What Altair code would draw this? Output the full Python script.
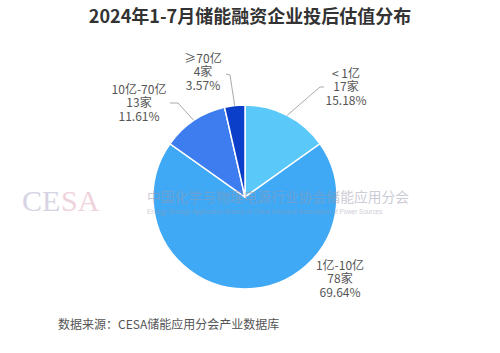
import math
import altair as alt
import pandas as pd

# ---- data ----
title_text = "2024年1-7月储能融资企业投后估值分布"
source_text = "数据来源：CESA储能应用分会产业数据库"
categories = ["< 1亿", "1亿-10亿", "10亿-70亿", "≥70亿"]
counts = [17, 78, 13, 4]
percents = ["15.18%", "69.64%", "11.61%", "3.57%"]
colors = ["#5BC8FA", "#3FA9F5", "#3D7DF0", "#0B3EC9"]

# ---- layout ----
CX, CY, R = 245, 197, 92
FONT = "Noto Sans CJK SC"
LH = 13.5
label_anchor = [(346, 87), (340, 279), (139, 103), (203, 72)]
label_elbow = [(320, 87), None, (178, 103), (230, 75)]
label_end = [(324, 87), None, (170, 103), (226, 74)]

df = pd.DataFrame({"cat": categories, "count": counts, "pct": percents,
                   "order": list(range(len(categories)))})
df["count_txt"] = df["count"].astype(str) + "家"
df["lx"] = [p[0] for p in label_anchor]
df["ly"] = [p[1] for p in label_anchor]

# leader lines: start at arc edge at the slice mid-angle
total = sum(counts)
rows = []
cum = 0
for i, c in enumerate(counts):
    mid = (cum + c / 2) / total * 2 * math.pi
    cum += c
    if label_elbow[i] is None:
        continue
    sx, sy = CX + R * math.sin(mid), CY - R * math.cos(mid)
    pts = [(sx, sy), label_elbow[i], label_end[i]]
    for j, (px, py) in enumerate(pts):
        rows.append({"key": categories[i], "seq": j, "x": px, "y": py})
lines_df = pd.DataFrame(rows)

pie = alt.Chart(df).mark_arc(outerRadius=R, stroke="white", strokeWidth=1.5).encode(
    theta=alt.Theta("count:Q", stack=True),
    color=alt.Color("cat:N", scale=alt.Scale(domain=categories, range=colors), legend=None),
    order=alt.Order("order:Q"),
    x=alt.value(CX),
    y=alt.value(CY),
)

leaders = alt.Chart(lines_df).mark_line(color="#AAAAAA", strokeWidth=1).encode(
    x=alt.X("x:Q", scale=None),
    y=alt.Y("y:Q", scale=None),
    detail="key:N",
    order="seq:Q",
)


def label_line(field, dy):
    return alt.Chart(df).mark_text(
        font=FONT, fontSize=12, color="#555555", align="center", baseline="middle", dy=dy,
    ).encode(
        x=alt.X("lx:Q", scale=None),
        y=alt.Y("ly:Q", scale=None),
        text=f"{field}:N",
    )


labels = [label_line("cat", -LH), label_line("count_txt", 0), label_line("pct", LH)]

title = alt.Chart(pd.DataFrame({"t": [title_text]})).mark_text(
    font=FONT, fontSize=18, fontWeight="bold", color="#333333", align="center", baseline="middle"
).encode(x=alt.value(250), y=alt.value(18), text="t:N")

source = alt.Chart(pd.DataFrame({"t": [source_text]})).mark_text(
    font=FONT, fontSize=12, color="#555555", align="left", baseline="middle"
).encode(x=alt.value(58), y=alt.value(325), text="t:N")

wm_ce = alt.Chart(pd.DataFrame({"t": ["CE"]})).mark_text(
    font="Liberation Serif", fontSize=30, color="#D6D3E4", align="left", baseline="alphabetic"
).encode(x=alt.value(22), y=alt.value(211), text="t:N")
wm_sa = alt.Chart(pd.DataFrame({"t": ["SA"]})).mark_text(
    font="Liberation Serif", fontSize=30, color="#EFD3DC", align="left", baseline="alphabetic"
).encode(x=alt.value(61), y=alt.value(211), text="t:N")
wm_cn = alt.Chart(pd.DataFrame({"t": ["中国化学与物理电源行业协会储能应用分会"]})).mark_text(
    font=FONT, fontSize=13.8, color="#9A9AAE", opacity=0.5, align="left", baseline="middle"
).encode(x=alt.value(147), y=alt.value(198), text="t:N")
wm_en = alt.Chart(pd.DataFrame({"t": ["Energy Storage Application Branch of China Industrial Association of Power Sources"]})).mark_text(
    font="Liberation Sans", fontSize=6.3, color="#9A9AAE", opacity=0.5, align="left", baseline="middle"
).encode(x=alt.value(147), y=alt.value(212), text="t:N")

chart = alt.layer(pie, leaders, *labels, title, source, wm_ce, wm_sa, wm_cn, wm_en).properties(
    width=500, height=353, padding=0, autosize=alt.AutoSizeParams(type="none"),
    background="white",
).configure_view(strokeWidth=0)

chart.save("out.html", embed_options={"renderer": "svg", "actions": False})
